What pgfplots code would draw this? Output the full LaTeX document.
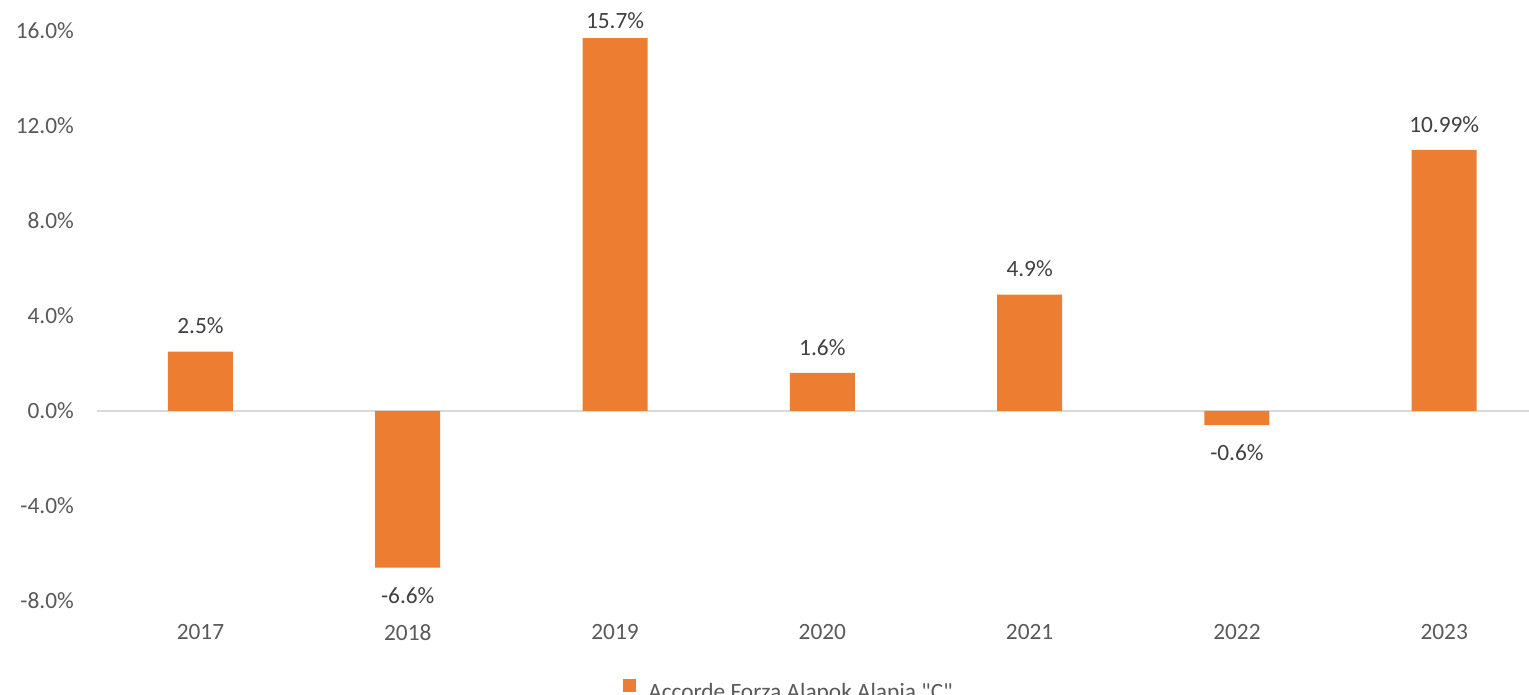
\documentclass[border=0pt]{standalone}
\usepackage{pgfplots}
\pgfplotsset{compat=1.18}
\usepackage{fontspec}
\setmainfont{Carlito}
\definecolor{barorange}{HTML}{ED7D31}
\definecolor{ticktext}{HTML}{595959}
\definecolor{labeltext}{HTML}{404040}
\definecolor{zeroline}{HTML}{D9D9D9}
\begin{document}
\begin{tikzpicture}[x=0.75pt,y=0.75pt]
\begin{axis}[
  scale only axis,
  width=1074.15pt, height=427.5pt,
  xmin=-0.5, xmax=6.409,
  ymin=-8, ymax=16,
  axis line style={draw=none},
  major tick length=0pt,
  xtick={0,1,2,3,4,5,6},
  xticklabels={2017,2018,2019,2020,2021,2022,2023},
  ytick={-8,-4,0,4,8,12,16},
  yticklabels={-8.0\%,-4.0\%,0.0\%,4.0\%,8.0\%,12.0\%,16.0\%},
  tick label style={font=\fontsize{17.5}{20}\selectfont, text=ticktext, inner sep=0pt},
  yticklabel style={anchor=east, xshift=-17pt},
  xticklabel style={anchor=north, yshift=-17.5pt},
  extra y ticks={0},
  extra y tick labels={},
  extra y tick style={grid=major, major grid style={draw=zeroline, line width=1.1pt}},
  ybar, bar width=48.75pt,
  point meta=explicit symbolic,
  visualization depends on={rawy \as \rawy},
  nodes near coords={\pgfplotspointmeta\%},
  every node near coord/.append style={font=\fontsize{17.5}{20}\selectfont, text=labeltext, inner xsep=0pt},
  every node near coord/.append code={%
    \ifdim\rawy pt<0pt \pgfkeysalso{anchor=north, inner ysep=14.5pt}%
    \else\ifdim\rawy pt>15pt \pgfkeysalso{anchor=south, inner ysep=6.5pt}%
    \else\pgfkeysalso{anchor=south, inner ysep=13pt}\fi\fi},
  legend style={at={(0.3674,-0.137)}, anchor=north west, draw=none, fill=none, inner sep=0pt,
    font=\fontsize{17.5}{20}\selectfont, text=ticktext, nodes={inner sep=0pt}, column sep=9pt},
  legend image code/.code={\fill[barorange] (0pt,0pt) rectangle (9.75pt,9.75pt);},
]
\coordinate (bl) at (rel axis cs:0,0);
\addplot[fill=barorange, draw=none] table[meta=label] {
x y label
0 2.5 2.5
1 -6.6 -6.6
2 15.7 15.7
3 1.6 1.6
4 4.9 4.9
5 -0.6 -0.6
6 10.99 10.99
};
\addlegendentry{Accorde Forza Alapok Alapja \textquotedbl{}C\textquotedbl{}}
\end{axis}
\pgfresetboundingbox
\path[use as bounding box] ([shift={(-96.8,-94)}]bl) rectangle ++(1529,695);
\end{tikzpicture}
\end{document}
